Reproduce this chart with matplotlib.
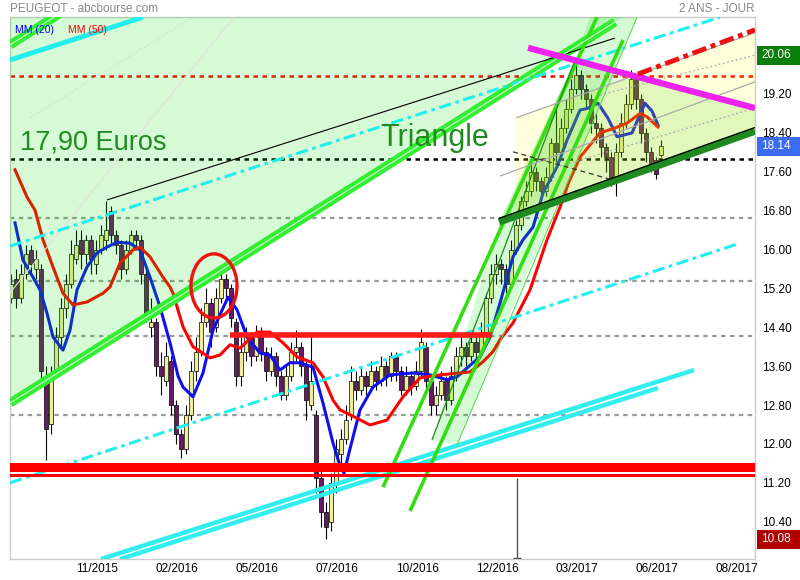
import numpy as np
import matplotlib
matplotlib.use("Agg")
import matplotlib.pyplot as plt
from matplotlib.patches import Polygon, Ellipse, Rectangle
from matplotlib import font_manager as fm
from matplotlib.transforms import blended_transform_factory

# ---------------- data (bar index, price) ----------------
opens = [15.0,15.4,15.0,15.5,16.0,15.6,15.6,13.4,12.4,13.5,
         14.2,14.8,15.3,15.8,16.2,15.9,16.2,15.7,16.0,16.2,
         16.8,16.3,16.1,15.6,16.0,16.3,16.2,15.5,14.4,14.5,
         13.6,13.3,13.7,12.8,12.2,11.9,12.6,13.5,13.9,14.5,
         14.9,14.4,15.0,15.4,15.2,14.5,13.4,13.9,14.2,13.8,
         14.3,13.9,13.5,13.8,13.4,13.0,13.4,13.9,14.0,13.6,
         12.8,12.6,11.3,10.6,10.4,11.2,11.8,12.1,12.6,13.3,
         13.1,13.4,13.2,13.5,13.3,13.6,13.4,13.8,13.5,13.1,
         13.4,13.2,13.5,14.0,13.3,12.8,13.0,13.3,12.9,13.4,
         13.8,14.0,13.8,14.1,13.9,14.3,15.0,15.5,15.7,15.6,
         15.3,16.0,16.5,17.0,17.2,17.6,17.4,17.2,17.5,18.2,
         18.0,18.5,18.9,19.3,19.6,19.3,19.1,18.6,18.5,18.1,
         17.9,17.4,18.0,18.6,19.0,19.5,19.1,18.4,18.0,17.85,
         17.95]
closes = [15.3,15.0,15.5,15.9,15.7,15.8,13.5,12.3,13.4,14.2,
          14.8,15.3,15.9,16.1,15.9,16.2,15.8,16.0,16.3,16.4,
          16.3,16.1,15.6,16.0,16.3,16.2,15.5,14.7,14.5,13.6,
          13.4,13.8,12.8,12.2,11.9,12.6,13.5,13.9,14.5,14.9,
          14.3,15.0,15.4,15.2,14.6,13.4,13.9,14.2,13.8,14.3,
          13.9,13.5,13.8,13.4,13.0,13.4,13.9,14.0,13.6,12.9,
          13.3,11.3,10.6,10.3,11.2,11.9,12.1,12.5,13.3,13.1,
          13.4,13.2,13.5,13.3,13.6,13.4,13.8,13.5,13.1,13.4,
          13.2,13.5,14.1,13.3,12.8,13.0,13.3,12.9,13.4,13.8,
          14.0,13.8,14.1,13.9,14.3,15.0,15.5,15.7,15.6,15.3,
          16.0,16.5,17.0,17.2,17.6,17.4,17.2,17.5,18.2,18.0,
          18.5,18.9,19.3,19.6,19.3,19.1,18.6,18.5,18.1,17.9,
          17.5,18.0,18.6,19.0,19.5,19.1,18.4,18.0,17.7,17.55,
          18.14]
highs = [15.5,15.6,15.7,16.1,16.1,16.0,15.7,13.6,13.6,14.4,
         15.0,15.5,16.2,16.4,16.4,16.3,16.3,16.2,16.5,17.0,
         16.9,16.4,16.2,16.2,16.4,16.4,16.3,15.6,15.0,14.6,
         13.9,14.1,13.8,12.9,12.3,12.8,13.7,14.2,14.8,15.2,
         15.0,15.2,15.65,15.5,15.3,14.6,14.2,14.4,14.3,14.45,
         14.4,14.0,14.0,13.9,13.5,13.6,14.1,14.35,14.1,13.7,
         14.2,12.7,11.5,10.8,11.4,12.1,12.3,12.8,13.6,13.5,
         13.6,13.5,13.7,13.6,13.8,13.7,13.9,13.9,13.6,13.6,
         13.5,13.7,14.36,14.1,13.4,13.2,13.5,13.4,13.6,14.0,
         14.2,14.1,14.3,14.2,14.5,15.1,15.7,15.9,15.8,15.7,
         16.2,16.6,17.1,17.4,17.8,17.7,17.5,17.7,18.3,18.9,
         18.7,19.1,19.5,19.85,19.7,19.4,19.2,18.8,18.6,18.2,
         18.0,18.2,18.8,19.2,19.7,19.6,19.2,18.5,18.1,17.9,
         18.25]
lows = [14.9,14.8,14.9,15.4,15.5,15.4,13.3,11.66,12.2,13.4,
        14.0,14.6,15.2,15.7,15.6,15.7,15.5,15.5,15.9,16.0,
        16.1,15.9,15.4,15.5,15.9,16.0,15.3,14.5,14.2,13.4,
        13.0,13.2,12.6,12.0,11.7,11.8,12.5,13.3,13.8,14.4,
        14.0,14.3,14.9,14.9,14.4,13.2,13.2,13.7,13.6,13.7,
        13.7,13.3,13.4,13.2,12.9,12.9,13.3,13.7,13.4,12.5,
        12.7,11.0,10.3,10.05,10.2,11.0,11.6,12.0,12.5,12.9,
        13.0,13.0,13.1,13.1,13.2,13.2,13.3,13.3,13.0,13.0,
        13.0,13.1,13.4,13.1,12.6,12.6,12.9,12.7,12.8,13.3,
        13.6,13.6,13.7,13.7,13.8,14.2,14.9,15.3,15.3,15.1,
        15.2,15.9,16.4,16.9,17.1,17.2,17.0,17.1,17.4,17.8,
        17.9,18.4,18.8,19.2,19.1,18.9,18.4,18.2,17.9,17.6,
        17.3,17.1,17.9,18.5,18.9,18.9,18.2,17.8,17.6,17.45,
        17.9]

ma20_x = [0.8,2.4,4.4,5.8,7.2,8.4,10.4,11.8,13.2,15.2,17.2,19.2,21.2,23.8,25.8,27.8,
          29.8,31.8,33.4,34.4,36.4,38.4,40.4,43.4,45.2,47.2,49.8,51.8,53.8,55.8,57.8,
          60.4,62.4,64.4,65.8,66.6,67.8,69.8,72.4,75.8,80.4,83.8,87.2,89.2,92.4,93.8,
          95.8,97.8,100.4,102.4,104.4,106.4,109.2,111.2,113.8,115.2,117.4,119.4,121.2,
          124.2,126.8,128.2,129.4]
ma20_y = [16.55,15.78,15.43,15.17,14.69,14.2,13.93,14.34,15.17,15.64,15.93,16.05,16.15,16.13,
          15.99,15.43,14.82,14.08,13.4,13.17,12.97,13.46,14.34,15.02,14.76,14.2,13.87,13.83,
          13.52,13.67,13.67,13.58,12.84,12.02,11.55,11.4,11.9,12.7,13.17,13.42,13.46,13.42,
          13.32,13.38,13.67,13.79,14.2,14.9,15.85,16.2,16.46,17.16,17.7,18.25,18.87,18.9,
          19.01,18.7,18.32,18.4,19.01,18.85,18.56]
ma50_x = [0.8,3.2,4.8,6.4,8.4,10.4,12.4,15.2,18.4,19.8,21.8,24.4,25.8,27.8,30.4,31.8,32.4,
          34.4,36.4,39.8,41.8,43.8,45.8,49.2,51.8,54.4,57.2,60.4,62.4,64.4,65.8,67.8,71.8,
          75.2,78.4,81.8,85.8,91.8,94.4,96.4,97.8,100.4,103.8,107.2,109.8,111.5,113.8,
          117.8,120.8,123.2,125.8,127.2,129.4]
ma50_y = [17.64,17.08,16.81,16.2,15.64,15.1,14.86,14.92,15.1,15.23,15.72,15.99,16.05,15.85,
          15.43,15.23,15.1,14.41,14.0,13.77,13.83,14.04,13.97,14.3,14.3,14.08,13.79,13.67,
          13.38,12.9,12.7,12.6,12.39,12.49,12.97,13.36,13.42,13.48,13.69,13.9,14.14,14.49,
          15.17,16.2,16.87,17.37,17.9,18.4,18.5,18.6,18.8,18.73,18.52]

xtick_pos = [17.2, 33.2, 49.2, 65.2, 81.2, 97.2, 113.2, 129.2, 145.2]
xtick_labels = ['11/2015', '02/2016', '05/2016', '07/2016', '10/2016',
                '12/2016', '03/2017', '06/2017', '08/2017']
ytick_vals = [10.40, 11.20, 12.00, 12.80, 13.60, 14.40, 15.20, 16.00, 16.80, 17.60, 18.40, 19.20]

price_labels = ['20.06', '18.14', '10.08']
price_label_y = [20.00, 18.12, 10.04]
price_label_colors = ['#0a7d0a', '#3b6cf0', '#b00000']

# drawn objects (index, price)
green_main = [(-0.2, 12.84), (120.8, 20.68)]
green_topleft = [(-0.2, 20.21), (12.0, 21.0)]
black_line = [(19.2, 17.02), (120.8, 20.35)]
cyan_top = [(-0.2, 19.90), (26.4, 20.78)]
cyan_dd_up = [(-0.2, 16.07), (141.8, 20.78)]
cyan_dd_low = [(-0.2, 11.20), (145.8, 16.13)]
cyan_solid_1 = [(18.0, 9.63), (136.6, 13.52)]
cyan_solid_2 = [(21.8, 9.63), (129.4, 13.15)]
steep_a = [(74.4, 11.11), (117.2, 20.78)]
steep_b = [(79.8, 10.62), (122.4, 20.31)]
wedge_left = [(84.2, 12.08), (112.8, 19.90)]
wedge_right = [(89.2, 11.98), (125.2, 20.78)]
tri_low = [(97.6, 16.57), (148.8, 18.44)]
tri_high = [(103.4, 20.15), (148.8, 18.91)]
red_dashdot = [(125.4, 19.61), (148.8, 20.52)]
gray_chan = [(97.8, 17.51), (148.8, 19.45)]
gray_top = [(101.0, 18.71), (148.8, 20.46)]
gray_dot_1 = [(109.8, 17.72), (148.8, 18.91)]
gray_dot_2 = [(117.8, 19.18), (148.8, 20.0)]
dark_dash = [(100.4, 18.01), (120.4, 17.43)]
faint_1 = [(-0.2, 15.11), (44.6, 20.78)]
faint_2 = [(3.8, 18.71), (36.4, 20.78)]

green_zone = [(-0.2, 12.84), (122.4, 20.784), (-0.2, 20.784)]
wedge_zone = [(84.2, 12.08), (97.8, 16.57), (112.8, 19.90), (115.8, 20.784),
              (125.2, 20.784), (101.0, 14.96), (89.2, 11.98)]
triangle_zone = [(97.6, 16.57), (112.8, 19.90), (148.8, 18.91), (148.8, 18.44)]
yellow_zone = [(101.0, 16.69), (101.0, 18.71), (148.8, 20.46), (148.8, 18.46)]

red_dotted_level = 19.56
black_level = 17.86
gray_levels = [16.65, 15.35, 14.22, 12.59]
red_resist = (43.8, 96.2, 14.24)
red_band_1 = (11.42, 11.61)
red_band_2 = (11.32, 11.385)
circle = (40.6, 15.25, 9.2, 1.32)
vline = (101.2, 9.63, 11.30)

# ---------------- figure ----------------
avail = {f.name for f in fm.fontManager.ttflist}
narrow = 'Liberation Sans Narrow' if 'Liberation Sans Narrow' in avail else 'Liberation Sans'
plt.rcParams['font.family'] = ['Liberation Sans', 'DejaVu Sans']

fig = plt.figure(figsize=(8, 5.8), dpi=100)
ax = fig.add_axes([10/800, 21/580, 745/800, 542/580])
ax.set_xlim(-0.2, 148.8)
ax.set_ylim(9.632, 20.784)

def seg(p, **kw):
    ax.plot([p[0][0], p[1][0]], [p[0][1], p[1][1]], solid_capstyle='butt', **kw)

# horizontal levels
ax.axhline(red_dotted_level, color='red', lw=1.8, ls=(0, (1.8, 1.8)), zorder=1.5)
ax.axhline(black_level, color='black', lw=1.8, ls=(0, (1.8, 1.8)), zorder=1.5)
for g in gray_levels:
    ax.axhline(g, color='#999999', lw=1.6, ls=(0, (2, 2)), zorder=1.5)

# candles
x = np.arange(len(closes))
o = np.array(opens); c = np.array(closes)
h = np.array(highs); l = np.array(lows)
up = c >= o
cols = np.where(up, '#eeee99', '#661a66')
ax.vlines(x, l, h, color='black', lw=0.8, zorder=2)
ax.bar(x, np.maximum(np.abs(c - o), 0.04), bottom=np.minimum(o, c), width=0.7,
       color=cols, edgecolor='black', linewidth=0.5, zorder=2.1)

# moving averages
ax.plot(ma20_x, ma20_y, color='#1010ee', lw=2.2, zorder=3)
ax.plot(ma50_x, ma50_y, color='#ff0000', lw=2.2, zorder=3)

# shaded zones
for poly, col, a in [(green_zone, '#00dd00', 0.16), (wedge_zone, '#00dd00', 0.16),
                     (yellow_zone, '#ffff00', 0.14), (triangle_zone, '#33cc00', 0.14)]:
    ax.add_patch(Polygon(poly, closed=True, facecolor=col, alpha=a, edgecolor='none', zorder=4))

# faint lines
seg(faint_1, color='#e2e2e2', lw=0.8, zorder=4.5)
seg(faint_2, color='#dddddd', lw=0.8, ls=(0, (2, 2)), zorder=4.5)

# green double lines
for p in (green_main, green_topleft):
    seg(p, color='#33ee33', lw=6.5, zorder=5)
    seg(p, color='#c8ffc8', lw=0.8, zorder=5.1)

seg(black_line, color='black', lw=0.8, zorder=5)
seg(cyan_top, color='#22eeee', lw=3.5, zorder=5)
seg(cyan_dd_up, color='#22eeee', lw=2.2, ls=(0, (4, 1.5, 1.2, 1.5)), zorder=5)
seg(cyan_dd_low, color='#22eeee', lw=2.2, ls=(0, (4, 1.5, 1.2, 1.5)), zorder=5)
seg(cyan_solid_1, color='#33eeee', lw=3.2, zorder=5)
seg(cyan_solid_2, color='#33eeee', lw=3.2, zorder=5)

# steep channel
seg(steep_a, color='#33dd11', lw=2.6, zorder=5)
seg(steep_b, color='#33dd11', lw=2.6, zorder=5)
seg(wedge_left, color='#228822', lw=0.9, zorder=5)
seg(wedge_right, color='#55dd55', lw=0.8, zorder=5)

# yellow channel lines
seg(gray_chan, color='#aaaaaa', lw=0.9, zorder=5)
seg(gray_top, color='#aaaaaa', lw=0.9, zorder=5)
seg(gray_dot_1, color='#aaaaaa', lw=0.9, ls=(0, (1.5, 2)), zorder=5)
seg(gray_dot_2, color='#aaaaaa', lw=0.9, ls=(0, (1.5, 2)), zorder=5)
seg(dark_dash, color='#333333', lw=0.9, ls=(0, (4, 3)), zorder=5)

# triangle
seg(tri_low, color='#1f8a1f', lw=5.5, zorder=5.5)
seg([(tri_low[0][0], tri_low[0][1] + 0.07), (tri_low[1][0], tri_low[1][1] + 0.07)],
    color='black', lw=0.9, zorder=5.6)
seg(tri_high, color='#ee22ee', lw=4.5, zorder=5.5)
seg(red_dashdot, color='#ee1111', lw=3.5, ls=(0, (3, 1, 1, 1)), zorder=5.5)

# red levels
ax.hlines(red_resist[2], red_resist[0], red_resist[1], color='#ff1a1a', lw=4, zorder=5)
ax.axhspan(*red_band_1, color='#ff0000', lw=0, zorder=5)
ax.axhspan(*red_band_2, color='#ff0000', lw=0, zorder=5)
ax.add_patch(Ellipse((circle[0], circle[1]), circle[2], circle[3], fill=False,
                     edgecolor='#ee1111', lw=2.4, zorder=6))
ax.vlines(vline[0], vline[1], vline[2], color='#555555', lw=1, zorder=5)
ax.hlines(vline[1] + 0.02, vline[0] - 0.8, vline[0] + 0.8, color='#555555', lw=1, zorder=5)

# annotations
ax.text(1.8, 18.05, '17,90 Euros', fontsize=19.5, color='#1e8c1e', zorder=7)
ax.text(73.8, 18.13, 'Triangle', fontsize=22, color='#1e8c1e', zorder=7)
ax.text(0.007, 0.986, 'MM (20)', transform=ax.transAxes, fontsize=7.5, color='#0000ff',
        va='top', family=narrow, zorder=7)
ax.text(0.078, 0.986, 'MM (50)', transform=ax.transAxes, fontsize=7.5, color='#ff0000',
        va='top', family=narrow, zorder=7)

# axes styling
for s in ax.spines.values():
    s.set_color('#cccccc')
    s.set_linewidth(1)
ax.yaxis.tick_right()
ax.set_yticks(ytick_vals)
ax.set_yticklabels(['%.2f' % v for v in ytick_vals])
ax.set_xticks(xtick_pos)
ax.set_xticklabels(xtick_labels)
ax.tick_params(axis='y', length=0, pad=5, labelsize=8.5)
ax.tick_params(axis='x', length=0, pad=3, labelsize=8.5)
for t in ax.get_xticklabels() + ax.get_yticklabels():
    t.set_family(narrow)

# price boxes on right (figure-x, data-y)
btr = blended_transform_factory(fig.transFigure, ax.transData)
box_h = 19 / 48.6
for lab, yv, col in zip(price_labels, price_label_y, price_label_colors):
    fig.patches.append(Rectangle((757/800, yv - box_h / 2), 43/800, box_h, transform=btr,
                                 facecolor=col, edgecolor='none', clip_on=False))
    fig.text(761/800, yv, lab, transform=btr, fontsize=8.5, color='white',
             va='center', ha='left', family=narrow)

fig.text(10/800, 1 - 9/580, 'PEUGEOT - abcbourse.com', fontsize=8.5, color='#888888',
         va='center', ha='left', family=narrow)
fig.text(755/800, 1 - 9/580, '2 ANS - JOUR', fontsize=8.5, color='#888888',
         va='center', ha='right', family=narrow)

fig.savefig('out.png', dpi=100)
